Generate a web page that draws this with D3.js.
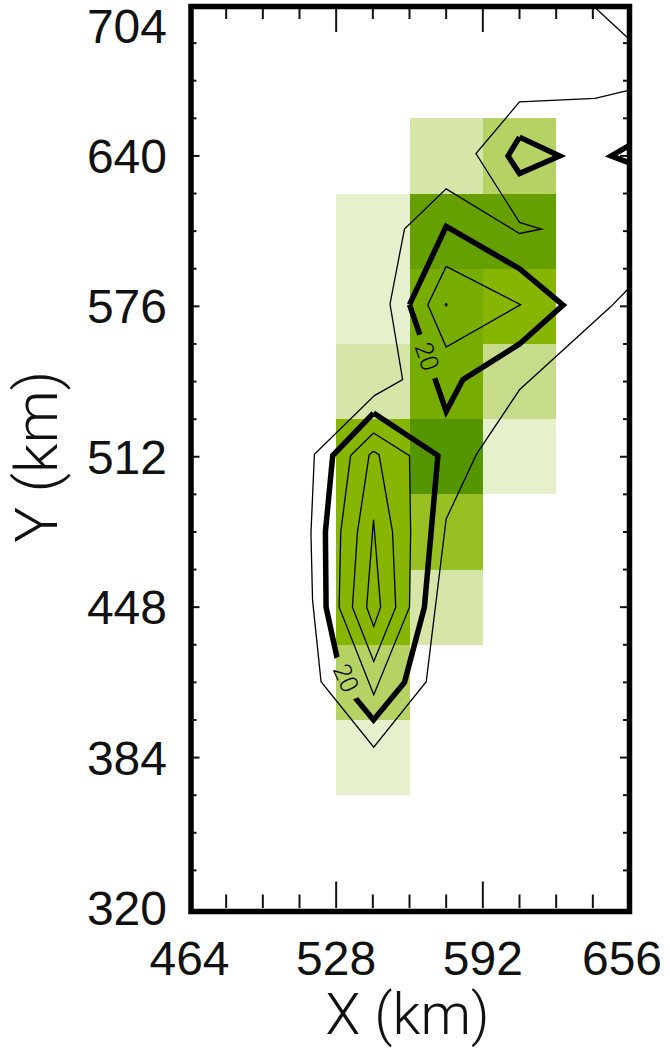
<!DOCTYPE html>
<html>
<head>
<meta charset="utf-8">
<script src="https://cdn.jsdelivr.net/npm/d3@7"></script>
<style>
  html, body { margin: 0; padding: 0; background: #fff; }
  svg { display: block; }
</style>
</head>
<body>
<script>
// ---- axis ticks (km) ----
const xTickValues = [464, 528, 592, 656];
const yTickValues = [320, 384, 448, 512, 576, 640, 704];
const minorStep = 16;

// ---- gridded field: 32 km cells, centres in km ----
const cellSize = 32;
const cellColumns = [544, 576, 608];
const cellRows = [640, 608, 576, 544, 512, 480, 448, 416, 384];
const cellValues = [
  // x = 544, 576, 608
  [null, 20, 30],   // y = 640
  [10,   65, 65],   // y = 608
  [10,   60, 55],   // y = 576
  [20,   60, 25],   // y = 544
  [55,   75, 10],   // y = 512
  [55,   45, null], // y = 480
  [55,   20, null], // y = 448
  [30, null, null], // y = 416
  [10, null, null]  // y = 384
];
const levelBreaks = [15, 22, 27, 35, 50, 57, 62, 70];
const levelColors = ["#e6f0cd", "#d6e6a9", "#c6dc8a", "#b6d264", "#99c022",
                     "#86b502", "#77ac00", "#66a000", "#549600"];

// ---- contour lines, vertices in km ----
const contour10 = [
  [[640, 704], [656, 689.5]],
  [[656, 668], [641, 664.5], [608, 663], [589, 641], [608, 611.7], [617.6, 608.9],
   [608, 607], [576, 626], [557.8, 608.9], [551.5, 577], [557, 544.8], [544.7, 538],
   [518.5, 513], [517, 479.5], [517.7, 451], [521.4, 416.3], [544.4, 388.4],
   [567.3, 416.3], [576, 485.5], [589.2, 513], [608, 540.5], [648, 576], [656, 584]]
];
const contour20 = [
  [[608, 648], [603, 640], [608, 632.5], [625.5, 640], [608, 648]],
  [[656, 644.5], [648, 640], [656, 637]],
  [[560, 576.7], [576, 610], [608, 592], [627, 576.5], [608, 560], [583.3, 544.8],
   [576, 531.3], [560, 576.7]],
  [[544.3, 530.6], [572.4, 512.5], [566.5, 448], [557.8, 416], [544.3, 400],
   [530.7, 416], [523.6, 448], [523.3, 480], [526.5, 512.5], [544.3, 530.6]]
];
const contour30 = [
  [[576, 593], [608.5, 576.7], [576, 558.7], [568, 576.7], [576, 593]],
  [[544.3, 522.1], [560, 512.5], [560.5, 480], [560, 448], [544.4, 410.7],
   [529.3, 448], [530, 480], [534.3, 512.5], [544.3, 522.1]]
];
const contour40 = [
  [[576, 577.3], [576.4, 576.7], [576, 576.2], [575.6, 576.7], [576, 577.3]],
  [[544.3, 514.3], [546.7, 512.9], [552.6, 480], [554, 448], [544.4, 424.9],
   [535.1, 448], [537.3, 480], [542.4, 512.9], [544.3, 514.3]]
];
const contour50 = [
  [[544.3, 485.2], [547.4, 448], [544.4, 439.8], [541.3, 448], [544.3, 485.2]]
];
const contourLabels = [
  { text: "20", x: 568, y: 554.7 },
  { text: "20", x: 531.2, y: 417 }
];

// ---- layout ----
const W = 670, H = 1050;
const x = d3.scaleLinear().domain([464, 656]).range([189.5, 629.5]);
const y = d3.scaleLinear().domain([320, 704]).range([908, 5.5]);

const svg = d3.select("body").append("svg")
  .attr("width", W).attr("height", H)
  .attr("viewBox", `0 0 ${W} ${H}`);

const defs = svg.append("defs");
defs.append("clipPath").attr("id", "plotClip")
  .append("rect")
  .attr("x", x(464)).attr("y", y(704))
  .attr("width", x(656) - x(464)).attr("height", y(320) - y(704));

const gapMask = defs.append("mask").attr("id", "labelGaps")
  .attr("maskUnits", "userSpaceOnUse")
  .attr("x", 0).attr("y", 0).attr("width", W).attr("height", H);
gapMask.append("rect").attr("width", W).attr("height", H).attr("fill", "#fff");

const plot = svg.append("g").attr("clip-path", "url(#plotClip)");

// cells
const color = d3.scaleThreshold().domain(levelBreaks).range(levelColors);
const cells = [];
cellRows.forEach((cy, i) => cellColumns.forEach((cx, j) => {
  const v = cellValues[i][j];
  if (v != null) cells.push({ cx, cy, v });
}));
plot.append("g").selectAll("rect").data(cells).join("rect")
  .attr("x", d => x(d.cx - cellSize / 2))
  .attr("y", d => y(d.cy + cellSize / 2))
  .attr("width", d => x(d.cx + cellSize / 2) - x(d.cx - cellSize / 2))
  .attr("height", d => y(d.cy - cellSize / 2) - y(d.cy + cellSize / 2))
  .attr("fill", d => color(d.v))
  .attr("shape-rendering", "crispEdges");

// contours
const line = d3.line().x(d => x(d[0])).y(d => y(d[1]));
function drawContours(group, data, width) {
  return group.selectAll("path").data(data).join("path")
    .attr("d", line)
    .attr("fill", "none")
    .attr("stroke", "#000")
    .attr("stroke-width", width)
    .attr("stroke-linejoin", "miter")
    .attr("stroke-miterlimit", 10);
}
const thin = plot.append("g");
[contour10, contour30, contour40, contour50].forEach(c =>
  drawContours(thin.append("g"), c, 1.3));
const thickGroup = plot.append("g").attr("mask", "url(#labelGaps)");
const thickPaths = drawContours(thickGroup, contour20, 5.5);

// labels placed along the thick contour, with a gap cut in the line
const half = 23;
contourLabels.forEach(lab => {
  const px = x(lab.x), py = y(lab.y);
  let best = null;
  thickPaths.each(function () {
    const len = this.getTotalLength();
    for (let l = 0; l <= len; l += 0.5) {
      const p = this.getPointAtLength(l);
      const d2 = (p.x - px) ** 2 + (p.y - py) ** 2;
      if (!best || d2 < best.d2) best = { d2, l, node: this, len };
    }
  });
  const p1 = best.node.getPointAtLength(Math.max(0, best.l - half));
  const p2 = best.node.getPointAtLength(Math.min(best.len, best.l + half));
  let ang = Math.atan2(p2.y - p1.y, p2.x - p1.x) * 180 / Math.PI;
  if (ang > 90) ang -= 180;
  if (ang < -90) ang += 180;
  const cx = (p1.x + p2.x) / 2, cy = (p1.y + p2.y) / 2;
  const gap = Math.hypot(p2.x - p1.x, p2.y - p1.y);
  gapMask.append("rect")
    .attr("x", -gap / 2).attr("y", -8).attr("width", gap).attr("height", 16)
    .attr("fill", "#000")
    .attr("transform", `translate(${cx},${cy}) rotate(${ang})`);
  plot.append("text")
    .attr("transform", `translate(${cx},${cy}) rotate(${ang})`)
    .attr("text-anchor", "middle")
    .attr("dy", "0.36em")
    .attr("font-family", "Roboto, 'Liberation Sans', sans-serif")
    .attr("font-weight", 300)
    .attr("font-size", 25)
    .attr("fill", "#000")
    .text(lab.text);
});

// ticks (inward)
const tickG = svg.append("g").attr("stroke", "#111").attr("stroke-width", 2);
const xMinor = d3.range(464 + minorStep, 656, minorStep);
const yMinor = d3.range(320 + minorStep, 704, minorStep);
const isMajorX = v => (v - 464) % 64 === 0;
const isMajorY = v => (v - 320) % 64 === 0;
xMinor.forEach(v => {
  const len = isMajorX(v) ? 24 : 11;
  tickG.append("line").attr("x1", x(v)).attr("x2", x(v))
    .attr("y1", y(704)).attr("y2", y(704) + 2.5 + len);
  tickG.append("line").attr("x1", x(v)).attr("x2", x(v))
    .attr("y1", y(320)).attr("y2", y(320) - 2.5 - len);
});
yMinor.forEach(v => {
  const len = isMajorY(v) ? 7 : 4;
  tickG.append("line").attr("y1", y(v)).attr("y2", y(v))
    .attr("x1", x(464)).attr("x2", x(464) + 3 + len);
  tickG.append("line").attr("y1", y(v)).attr("y2", y(v))
    .attr("x1", x(656)).attr("x2", x(656) - 2.5 - len);
});

// frame
svg.append("rect")
  .attr("x", x(464) + 1.5).attr("y", y(704) + 1)
  .attr("width", x(656) - x(464) - 1.5).attr("height", y(320) - y(704) + 2.5)
  .attr("fill", "none").attr("stroke", "#000").attr("stroke-width", 5.5);

// tick labels
const labelFont = "'Liberation Sans', Arial, Helvetica, sans-serif";
svg.append("g").selectAll("text").data(xTickValues).join("text")
  .attr("x", d => Math.min(x(d), W - 48))
  .attr("y", 975)
  .attr("text-anchor", "middle")
  .attr("font-family", labelFont).attr("font-size", 48).attr("fill", "#111")
  .text(d => d);
svg.append("g").selectAll("text").data(yTickValues).join("text")
  .attr("x", 167)
  .attr("y", d => Math.max(y(d) + 17, 43))
  .attr("text-anchor", "end")
  .attr("font-family", labelFont).attr("font-size", 48).attr("fill", "#111")
  .text(d => d);

// axis titles
svg.append("text")
  .attr("x", (x(464) + x(656)) / 2 - 2).attr("y", 1034)
  .attr("text-anchor", "middle")
  .attr("font-family", "Roboto, 'Liberation Sans', sans-serif")
  .attr("font-weight", 300).attr("font-size", 57).attr("fill", "#111")
  .text("X (km)");
svg.append("text")
  .attr("transform", `translate(57,${(y(320) + y(704)) / 2}) rotate(-90)`)
  .attr("text-anchor", "middle")
  .attr("font-family", "Roboto, 'Liberation Sans', sans-serif")
  .attr("font-weight", 300).attr("font-size", 60).attr("fill", "#111")
  .text("Y (km)");
</script>
</body>
</html>
